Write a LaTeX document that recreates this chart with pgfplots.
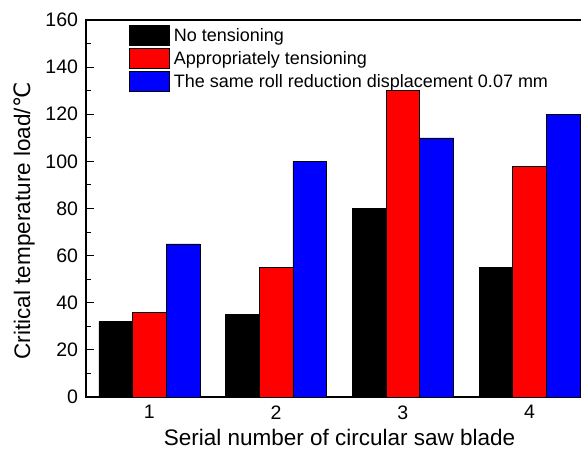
\documentclass[border=0pt]{standalone}
\usepackage{pgfplots}
\pgfplotsset{compat=1.18}
\usetikzlibrary{calc}
\usepackage{fontspec}
\setmainfont{Liberation Sans}
\newfontfamily\dejavu{DejaVu Sans}
\definecolor{barred}{RGB}{255,0,0}
\definecolor{barblue}{RGB}{0,0,255}
\begin{document}
\begin{tikzpicture}
\begin{axis}[
  name=ax, at={(0,0)}, anchor=south west,
  scale only axis, width=507pt, height=377pt,
  xmin=0.5, xmax=4.5, ymin=0, ymax=160,
  axis line style={line width=1.3pt},
  ybar=0pt, bar width=0.266,
  xtick={1,2,3,4},
  ytick={0,20,...,160}, minor y tick num=1,
  tick align=inside, ytick pos=left, xtick pos=bottom,
  major x tick style={draw=none},
  major tick length=8pt, minor tick length=5pt,
  tick style={line width=1pt, black},
  ticklabel style={font=\fontsize{19.5pt}{20pt}\selectfont},
  yticklabel style={xshift=-4.5pt},
  xticklabel style={yshift=-5pt},
  /pgf/number format/assume math mode=true,
  xlabel={Serial number of circular saw blade},
  ylabel={Critical temperature load/{\dejavu ℃}},
  label style={font=\fontsize{22.5pt}{24pt}\selectfont},
  xlabel style={at={(axis description cs:0.5,-0.106)}, anchor=center},
  ylabel style={at={(axis description cs:-0.122,0.467)}, anchor=center},
  legend cell align=left,
  legend image code/.code={\draw[#1, draw=black, line width=0.6pt] (0pt,-10pt) rectangle (40pt,10pt);},
  legend style={draw=none, fill=none, at={(axis description cs:0.085,0.987)}, anchor=north west,
    font=\fontsize{18pt}{18pt}\selectfont, inner sep=0pt, row sep=2.5pt,
    /tikz/every odd column/.append style={column sep=3pt},
    nodes={inner xsep=1pt, inner ysep=1pt}},
]
\addplot[fill=black, draw=black, line width=0.6pt] coordinates {(1,32) (2,35) (3,80) (4,55)};
\addplot[fill=barred, draw=black, line width=0.6pt] coordinates {(1,36) (2,55) (3,130) (4,98)};
\addplot[fill=barblue, draw=black, line width=0.6pt] coordinates {(1,65) (2,100) (3,110) (4,120)};
\legend{No tensioning, Appropriately tensioning, The same roll reduction displacement 0.07 mm}
\end{axis}
\pgfresetboundingbox
\useasboundingbox ($(ax.south west)+(-86pt,-53pt)$) rectangle ($(ax.south west)+(495pt,397pt)$);
\end{tikzpicture}
\end{document}
